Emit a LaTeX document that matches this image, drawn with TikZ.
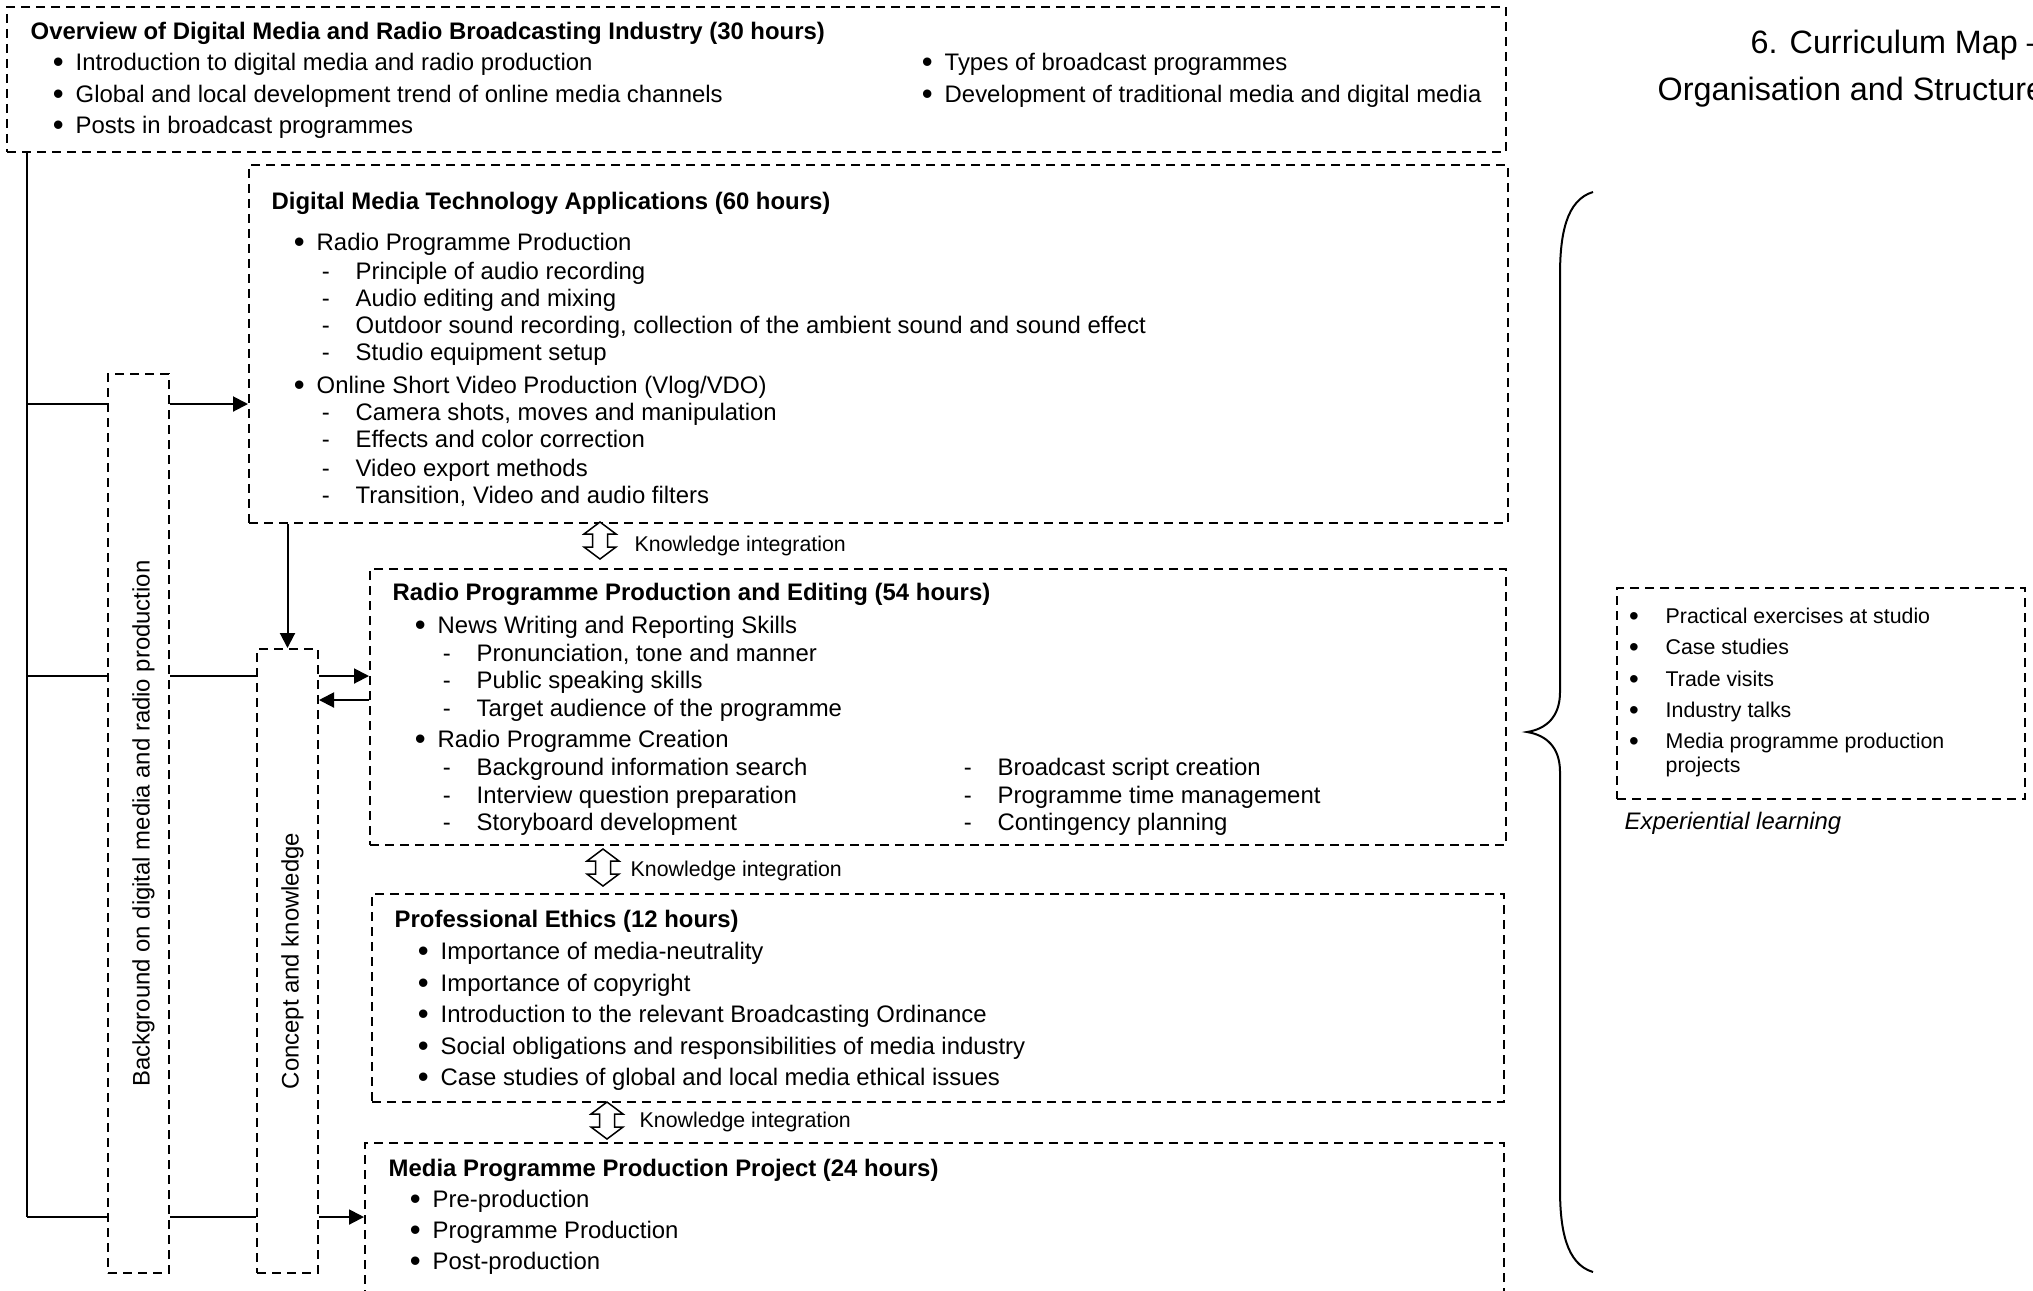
\documentclass[tikz,border=0pt]{standalone}
\usepackage{fontspec}
\usepackage{graphicx}
\setmainfont{Liberation Sans}
\usetikzlibrary{arrows.meta}

\newcommand{\fbody}{\fontsize{6.8pt}{8pt}\selectfont}
\newcommand{\fsmall}{\fontsize{6.07pt}{7pt}\selectfont}
\newcommand{\bigdot}{\raisebox{-0.1em}{\scalebox{1.3}{\textbullet}}}

\tikzset{
	dbox/.style={draw, line width=0.2mm, dash pattern=on 0.9mm off 0.6mm, anchor=north west, inner sep=0pt},
	txt/.style={anchor=base west, inner sep=0pt, font=\fbody},
	ttl/.style={txt, font=\fbody\bfseries},
	itm/.style={txt, execute at begin node={\llap{\bigdot\hspace{1.2mm}}}},
	subitem/.style={txt, execute at begin node={\llap{-\hspace{2.6mm}}}},
	sml/.style={anchor=base west, inner sep=0pt, font=\fsmall},
	smlitm/.style={sml, execute at begin node={\llap{\bigdot\hspace{2.7mm}}}},
	vtxt/.style={rotate=90, font=\fbody, inner sep=0pt},
	link/.style={line width=0.2mm},
	arr/.style={link, -{Triangle[length=1.5mm,width=1.5mm]}},
	kint/.pic={
		\draw[line width=0.15mm, fill=white] (0,0) -- (0.16,-0.12) -- (0.075,-0.12) -- (0.075,-0.25) -- (0.16,-0.25)
		-- (0,-0.37) -- (-0.16,-0.25) -- (-0.075,-0.25) -- (-0.075,-0.12) -- (-0.16,-0.12) -- cycle;
	}
}

\begin{document}
\begin{tikzpicture}
		\useasboundingbox (0,0) rectangle (20.33,-12.90);

		% overview
		\node[dbox, minimum width=14.99cm, minimum height=1.45cm] (over) at (0.06,-0.06) {};
		\node[ttl] (over-t) at (0.30,-0.39) {Overview of Digital Media and Radio Broadcasting Industry (30 hours)};
		\foreach \y/\t [count=\i] in {0.70/Introduction to digital media and radio production, 1.02/Global and local development trend of online media channels, 1.33/Posts in broadcast programmes}
			\node[itm] (over-a\i) at (0.75,-\y) {\t};
		\foreach \y/\t [count=\i] in {0.70/Types of broadcast programmes, 1.02/Development of traditional media and digital media}
			\node[itm] (over-b\i) at (9.44,-\y) {\t};

		% digital media technology
		\node[dbox, minimum width=12.59cm, minimum height=3.58cm] (tech) at (2.48,-1.64) {};
		\node[ttl] (tech-t) at (2.71,-2.09) {Digital Media Technology Applications (60 hours)};
		\node[itm] (tech-a) at (3.16,-2.50) {Radio Programme Production};
		\foreach \y/\t [count=\i] in {2.79/Principle of audio recording, 3.06/Audio editing and mixing, 3.33/{Outdoor sound recording, collection of the ambient sound and sound effect}, 3.60/Studio equipment setup}
			\node[subitem] (tech-a\i) at (3.55,-\y) {\t};
		\node[itm] (tech-b) at (3.16,-3.93) {Online Short Video Production (Vlog/VDO)};
		\foreach \y/\t [count=\i] in {4.20/{Camera shots, moves and manipulation}, 4.47/Effects and color correction, 4.76/Video export methods, 5.03/{Transition, Video and audio filters}}
			\node[subitem] (tech-b\i) at (3.55,-\y) {\t};

		% radio programme
		\node[dbox, minimum width=11.36cm, minimum height=2.76cm] (radio) at (3.69,-5.68) {};
		\node[ttl] (radio-t) at (3.92,-6.00) {Radio Programme Production and Editing (54 hours)};
		\node[itm] (radio-a) at (4.37,-6.33) {News Writing and Reporting Skills};
		\foreach \y/\t [count=\i] in {6.61/{Pronunciation, tone and manner}, 6.88/Public speaking skills, 7.16/Target audience of the programme}
			\node[subitem] (radio-a\i) at (4.76,-\y) {\t};
		\node[itm] (radio-b) at (4.37,-7.47) {Radio Programme Creation};
		\foreach \y/\t [count=\i] in {7.75/Background information search, 8.03/Interview question preparation, 8.30/Storyboard development}
			\node[subitem] (radio-b\i) at (4.76,-\y) {\t};
		\foreach \y/\t [count=\i] in {7.75/Broadcast script creation, 8.03/Programme time management, 8.30/Contingency planning}
			\node[subitem] (radio-c\i) at (9.97,-\y) {\t};

		% ethics
		\node[dbox, minimum width=11.32cm, minimum height=2.08cm] (ethics) at (3.71,-8.93) {};
		\node[ttl] (ethics-t) at (3.94,-9.27) {Professional Ethics (12 hours)};
		\foreach \y/\t [count=\i] in {9.59/Importance of media-neutrality, 9.91/Importance of copyright, 10.22/Introduction to the relevant Broadcasting Ordinance, 10.54/Social obligations and responsibilities of media industry, 10.85/Case studies of global and local media ethical issues}
			\node[itm] (ethics-a\i) at (4.40,-\y) {\t};

		% project
		\node[dbox, minimum width=11.39cm, minimum height=2.00cm] (proj) at (3.64,-11.42) {};
		\node[ttl] (proj-t) at (3.88,-11.76) {Media Programme Production Project (24 hours)};
		\foreach \y/\t [count=\i] in {12.07/Pre-production, 12.38/Programme Production, 12.69/Post-production}
			\node[itm] (proj-a\i) at (4.32,-\y) {\t};

		% side columns
		\node[dbox, minimum width=0.61cm, minimum height=8.99cm] (bg) at (1.07,-3.73) {};
		\node[vtxt] (bg-t) at ([xshift=0.05cm]bg.center) {Background on digital media and radio production};
		\node[dbox, minimum width=0.61cm, minimum height=6.24cm] (concept) at (2.56,-6.48) {};
		\node[vtxt] (concept-t) at ([xshift=0.05cm]concept.center) {Concept and knowledge};

		% knowledge integration
		\pic (ka) at (6.00,-5.22) {kint};
		\node[sml] (ka-t) at (6.34,-5.51) {Knowledge integration};
		\pic (kb) at (6.03,-8.49) {kint};
		\node[sml] (kb-t) at (6.30,-8.76) {Knowledge integration};
		\pic (kc) at (6.07,-11.02) {kint};
		\node[sml] (kc-t) at (6.39,-11.27) {Knowledge integration};

		% connectors
		\coordinate (j1) at (0.27,-4.04);
		\coordinate (j2) at (0.27,-6.76);
		\coordinate (j3) at (0.27,-7.00);
		\coordinate (j4) at (0.27,-12.17);
		\draw[link] (j1 |- over.south) -- (j4);
		\foreach \j in {j1,j2,j4}
			\draw[link] (\j) -- (\j -| bg.west);
		\draw[arr] (j1 -| bg.east) -- (j1 -| tech.west);
		\draw[link] (j2 -| bg.east) -- (j2 -| concept.west);
		\draw[arr] (j2 -| concept.east) -- (j2 -| radio.west);
		\draw[arr] (j3 -| radio.west) -- (j3 -| concept.east);
		\draw[link] (j4 -| bg.east) -- (j4 -| concept.west);
		\draw[arr] (j4 -| concept.east) -- (j4 -| proj.west);
		\draw[arr] (concept.north |- tech.south) -- (concept.north);

		% brace
		\draw[link] (15.93,-1.92) .. controls (15.66,-2.00) and (15.60,-2.35) .. (15.60,-2.75) -- (15.60,-6.92)
			.. controls (15.60,-7.17) and (15.46,-7.29) .. (15.27,-7.32)
			.. controls (15.46,-7.35) and (15.60,-7.47) .. (15.60,-7.72) -- (15.60,-11.89)
			.. controls (15.60,-12.29) and (15.66,-12.64) .. (15.93,-12.72);

		% experiential learning
		\node[dbox, minimum width=4.08cm, minimum height=2.11cm] (exp) at (16.16,-5.87) {};
		\foreach \y/\t [count=\i] in {6.23/Practical exercises at studio, 6.54/Case studies, 6.86/Trade visits, 7.17/Industry talks, 7.48/Media programme production}
			\node[smlitm] (exp-a\i) at (16.65,-\y) {\t};
		\node[sml] (exp-a6) at (16.65,-7.72) {projects};
		\node[txt, font=\fbody\itshape] (exp-t) at (16.24,-8.29) {Experiential learning};

		% title
		\node[anchor=base west, inner sep=0pt, font=\fontsize{9.2pt}{11pt}\selectfont] (title-a) at (17.50,-0.53) {6. Curriculum Map –};
		\node[anchor=base west, inner sep=0pt, font=\fontsize{9.2pt}{11pt}\selectfont] (title-b) at (16.57,-1.00) {Organisation and Structure};
	\end{tikzpicture}
\end{document}
